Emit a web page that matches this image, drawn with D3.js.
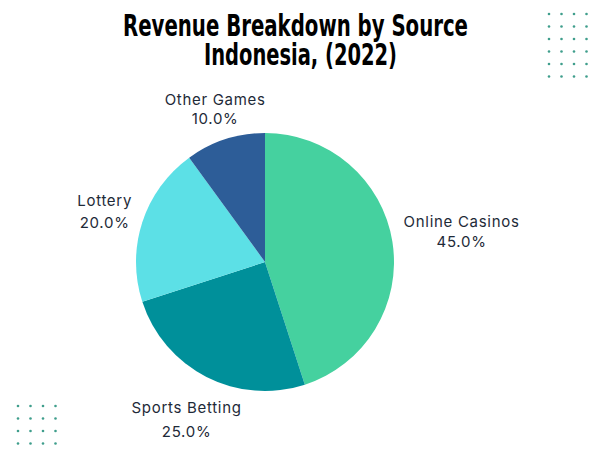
<!DOCTYPE html>
<html>
<head>
<meta charset="utf-8">
<script src="https://cdn.jsdelivr.net/npm/d3@7"></script>
<style>
  body { margin: 0; background: #fff; }
  svg { display: block; }
</style>
</head>
<body>
<div id="chart"></div>
<script>
'use strict';

var titleLines = ['Revenue Breakdown by Source', 'Indonesia, (2022)'];
var categories = ['Online Casinos', 'Sports Betting', 'Lottery', 'Other Games'];
var shares = [45, 25, 20, 10];
var colors = ['#45d19f', '#00909a', '#5ce0e6', '#2d5d98'];

// label nudges from the plain centroid, so they sit where the original put them
var labelShift = [[2, 6], [11, -13], [27, 16], [11, 40]];
var lineGap = [20, 24, 22, 19];

var width = 600;
var height = 450;
var cx = 265;
var cy = 262;
var radius = 129;

var svg = d3.select('#chart').append('svg')
  .attr('width', width)
  .attr('height', height);

// decorative dot grids in the corners
function dots(x0, y0, cols, rows, step) {
  var xs = d3.range(cols).map(function(i) { return x0 + i * step; });
  var ys = d3.range(rows).map(function(j) { return y0 + j * step; });
  var pts = [];
  ys.forEach(function(y) { xs.forEach(function(x) { pts.push([x, y]); }); });
  svg.append('g').selectAll('circle')
    .data(pts)
    .enter().append('circle')
    .attr('cx', function(d) { return d[0]; })
    .attr('cy', function(d) { return d[1]; })
    .attr('r', 1.3)
    .attr('fill', '#3f9e8c');
}
dots(549, 14, 4, 6, 12.5);
dots(18, 406, 4, 4, 12.5);

// title, stretched upward a bit to get the tall condensed look
svg.append('g').selectAll('text')
  .data(titleLines)
  .enter().append('text')
  .attr('transform', function(d, i) {
    return 'translate(' + (i ? 300.5 : 295.5) + ',' + (36 + i * 29) + ') scale(1,1.18)';
  })
  .attr('text-anchor', 'middle')
  .attr('textLength', function(d, i) { return i ? 193 : 345; })
  .attr('lengthAdjust', 'spacingAndGlyphs')
  .style('font-family', '"Liberation Sans Narrow", "DejaVu Sans Condensed", sans-serif')
  .style('font-weight', 'bold')
  .style('font-size', '25px')
  .style('fill', '#000')
  .text(function(d) { return d; });

var pie = d3.pie().sort(null).value(function(d) { return d; });
var arcs = pie(shares);

var arc = d3.arc().innerRadius(0).outerRadius(radius);
var labelArc = d3.arc().innerRadius(radius + 68).outerRadius(radius + 68);

var g = svg.append('g')
  .attr('transform', 'translate(' + cx + ',' + cy + ')');

g.selectAll('path')
  .data(arcs)
  .enter().append('path')
  .attr('d', arc)
  .attr('fill', function(d, i) { return colors[i]; });

var labels = g.selectAll('g.label')
  .data(arcs)
  .enter().append('g')
  .attr('class', 'label')
  .attr('transform', function(d, i) {
    var c = labelArc.centroid(d);
    return 'translate(' + (c[0] + labelShift[i][0]) + ',' + (c[1] + labelShift[i][1]) + ')';
  })
  .style('font-family', 'Inter, "Open Sans", sans-serif')
  .style('font-size', '15px')
  .style('letter-spacing', '0.7px')
  .style('fill', '#1e2a38')
  .attr('text-anchor', 'middle');

labels.append('text')
  .attr('y', function(d, i) { return -lineGap[i] / 2; })
  .text(function(d, i) { return categories[i]; });

labels.append('text')
  .attr('y', function(d, i) { return lineGap[i] / 2; })
  .text(function(d) { return d3.format('.1f')(d.data) + '%'; });
</script>
</body>
</html>
